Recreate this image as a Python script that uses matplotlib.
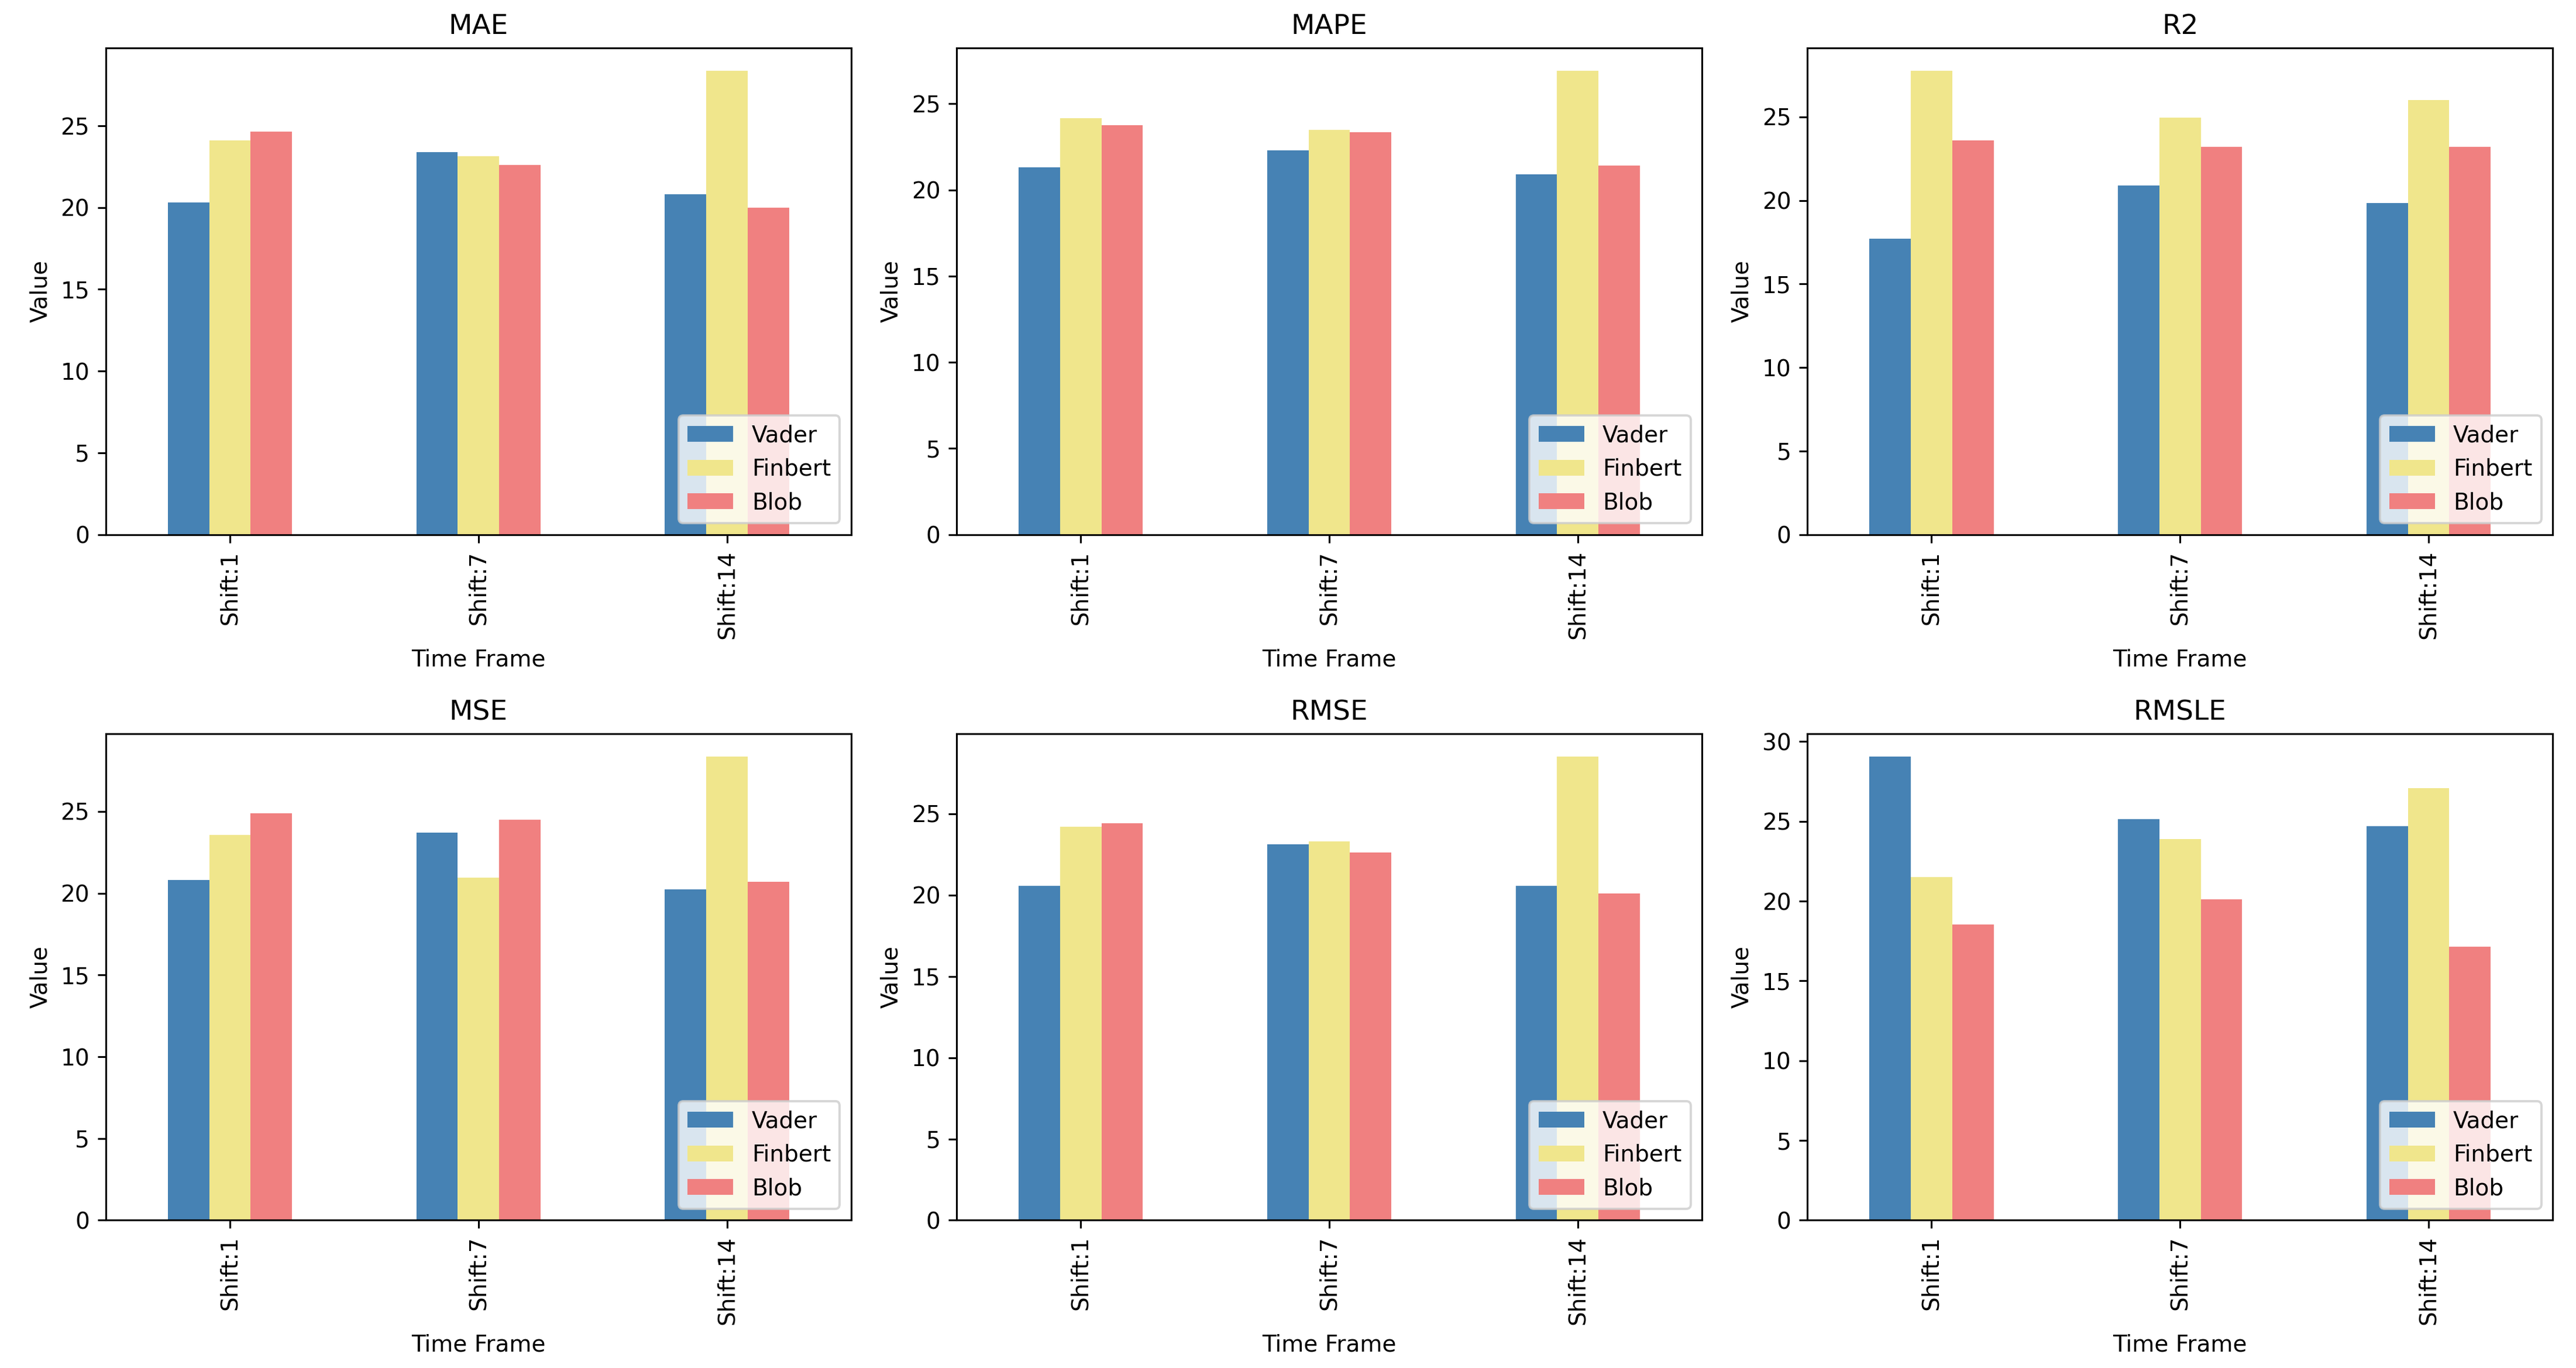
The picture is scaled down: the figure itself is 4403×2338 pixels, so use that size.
import matplotlib
matplotlib.use("Agg")
import matplotlib.pyplot as plt
import pandas as pd

# Data
time_frames = ["Shift:1", "Shift:7", "Shift:14"]
models = ["Vader", "Finbert", "Blob"]
metrics = ["MAE", "MAPE", "R2", "MSE", "RMSE", "RMSLE"]

mae_vals = [[20.3, 24.1, 24.65], [23.4, 23.15, 22.6], [20.8, 28.35, 20.0]]
mape_vals = [[21.3, 24.15, 23.75], [22.3, 23.5, 23.35], [20.9, 26.9, 21.4]]
r2_vals = [[17.7, 27.75, 23.6], [20.9, 24.95, 23.2], [19.85, 26.0, 23.2]]
mse_vals = [[20.8, 23.55, 24.9], [23.7, 20.95, 24.5], [20.25, 28.35, 20.7]]
rmse_vals = [[20.55, 24.2, 24.4], [23.1, 23.3, 22.6], [20.55, 28.5, 20.1]]
rmsle_vals = [[29.05, 21.5, 18.55], [25.15, 23.9, 20.1], [24.7, 27.1, 17.15]]

colors = ["steelblue", "khaki", "lightcoral"]


def make_frames():
    all_vals = [mae_vals, mape_vals, r2_vals, mse_vals, rmse_vals, rmsle_vals]
    frames = {}
    for name, vals in zip(metrics, all_vals):
        frames[name] = pd.DataFrame(vals, index=time_frames, columns=models)
    return frames


def draw_panel(ax, df, title):
    df.plot(kind="bar", ax=ax, color=colors)
    ax.set_title(title)
    ax.set_xlabel("Time Frame")
    ax.set_ylabel("Value")
    ax.legend(loc="lower right")


def main():
    frames = make_frames()
    fig, axes = plt.subplots(2, 3, figsize=(4403 / 281, 2338 / 281), dpi=281)
    for ax, name in zip(axes.flat, metrics):
        draw_panel(ax, frames[name], name)

    fig.subplots_adjust(left=0.041, right=0.991, top=0.965, bottom=0.108,
                        wspace=0.141, hspace=0.409)
    fig.savefig("out.png", dpi=281)
    plt.close(fig)


if __name__ == "__main__":
    main()
